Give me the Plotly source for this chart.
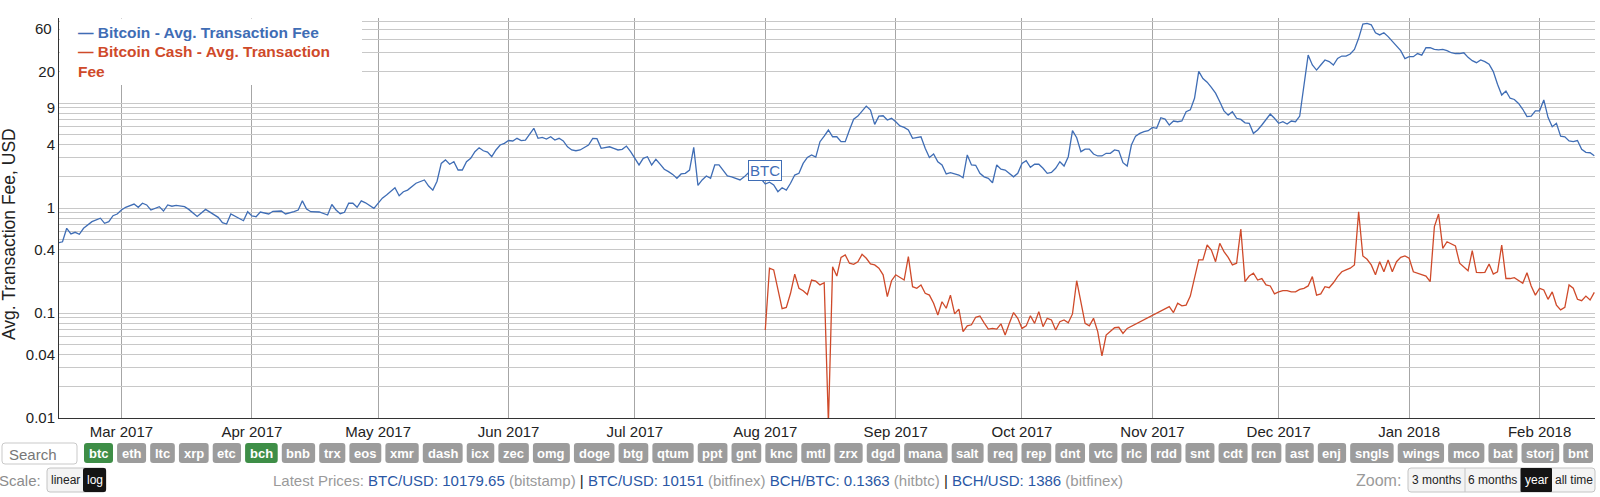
import math
import pandas as pd
import plotly.graph_objects as go

# ---------------- data ----------------
btc_early_dates = [
    "2017-02-14", "2017-02-15", "2017-02-16", "2017-02-17", "2017-02-18", "2017-02-19",
    "2017-02-20", "2017-02-22", "2017-02-24", "2017-02-25", "2017-02-26", "2017-02-27",
    "2017-02-28", "2017-03-01", "2017-03-02", "2017-03-04", "2017-03-05", "2017-03-06",
    "2017-03-07", "2017-03-08", "2017-03-10", "2017-03-11", "2017-03-12", "2017-03-13",
    "2017-03-14", "2017-03-16", "2017-03-17", "2017-03-19", "2017-03-21", "2017-03-22",
    "2017-03-24", "2017-03-25", "2017-03-26", "2017-03-27", "2017-03-28", "2017-03-30",
    "2017-03-31", "2017-04-01", "2017-04-02", "2017-04-03", "2017-04-05", "2017-04-06",
    "2017-04-08", "2017-04-09", "2017-04-11", "2017-04-12", "2017-04-13", "2017-04-14",
    "2017-04-15", "2017-04-17", "2017-04-19", "2017-04-20", "2017-04-21", "2017-04-22",
    "2017-04-23", "2017-04-24", "2017-04-25", "2017-04-26", "2017-04-27", "2017-04-28",
    "2017-04-30", "2017-05-01", "2017-05-02", "2017-05-03", "2017-05-05", "2017-05-06",
    "2017-05-07", "2017-05-08", "2017-05-10", "2017-05-12",
]
btc_early_fees = [
    0.467, 0.477, 0.641, 0.566, 0.587, 0.562,
    0.641, 0.741, 0.80, 0.715, 0.741, 0.845,
    0.877, 0.957, 1.015, 1.09, 1.015, 1.11,
    1.07, 0.957, 1.03, 0.936, 1.07, 1.04,
    1.06, 1.03, 0.97, 0.83, 0.97, 0.91,
    0.815, 0.725, 0.704, 0.877, 0.839, 0.757,
    0.922, 0.839, 0.826, 0.916, 0.877, 0.93,
    0.936, 0.877, 0.922, 0.957, 1.17, 0.978,
    0.922, 0.916, 0.858, 1.08, 0.957, 0.882,
    0.91, 1.11, 1.11, 1.015, 1.17, 1.12,
    0.993, 1.12, 1.24, 1.33, 1.56, 1.31,
    1.43, 1.48, 1.72, 1.85,
]

# daily BTC values, one list per month segment (start date, values)
btc_may = ("2017-05-13", [1.62, 1.48, 1.80, 2.66, 2.87, 2.61, 2.76, 2.30, 2.30, 2.76,
                          2.97, 3.44, 3.75, 3.51, 3.41, 3.08, 3.57, 3.98, 4.13])
btc_jun = ("2017-06-01", [4.39, 4.35, 4.61, 4.39, 4.44, 5.06, 5.74, 4.61, 4.70, 4.54,
                          4.77, 4.44, 4.61, 4.35, 3.83, 3.57, 3.51, 3.57, 3.78, 3.98,
                          4.61, 4.57, 3.70, 3.78, 3.83, 3.70, 3.57, 3.62, 3.89, 3.44])
btc_jul = ("2017-07-01", [2.97, 2.57, 2.97, 3.08, 2.57, 2.91, 2.62, 2.34, 2.22, 2.09,
                          1.92, 2.11, 2.14, 2.30, 3.78, 1.64, 1.85, 2.02, 1.92, 2.57,
                          2.57, 2.27, 2.02, 1.98, 1.92, 1.85, 1.98, 2.17, 2.30, 2.10, 1.90])
btc_aug = ("2017-08-01", [1.69, 1.76, 1.66, 1.43, 1.56, 1.48, 1.72, 2.06, 2.14, 2.66,
                          3.03, 3.20, 3.05, 4.28, 4.84, 5.53, 4.77, 4.77, 4.28, 4.28,
                          5.53, 7.00, 7.50, 8.40, 9.35, 8.58, 6.26, 7.50, 7.56, 6.89, 7.15])
btc_sep = ("2017-09-01", [6.63, 6.04, 5.86, 5.53, 4.61, 4.70, 4.77, 3.70, 3.03, 3.27,
                          2.76, 2.57, 2.11, 2.17, 2.11, 2.06, 1.94, 3.20, 2.57, 2.55,
                          2.14, 1.98, 1.92, 1.74, 2.57, 2.34, 2.30, 2.11, 1.98, 2.14])
btc_oct = ("2017-10-01", [2.66, 2.82, 2.44, 2.61, 2.61, 2.39, 2.14, 2.18, 2.39, 2.76,
                          2.51, 3.08, 5.45, 4.67, 3.44, 3.64, 3.64, 3.27, 3.13, 3.13,
                          3.32, 3.32, 3.57, 3.51, 2.70, 2.51, 3.98, 4.84, 5.14, 5.33, 5.45])
btc_nov = ("2017-11-01", [5.86, 5.74, 7.24, 7.04, 6.17, 6.74, 6.63, 6.74, 8.25, 8.60,
                          11.1, 20.0, 17.1, 15.8, 14.1, 12.4, 10.3, 8.42, 7.67, 8.25,
                          7.15, 6.98, 6.47, 6.40, 5.14, 5.53, 6.17, 6.89, 7.85, 7.15])
btc_dec = ("2017-12-01", [6.40, 6.63, 6.30, 6.74, 6.63, 7.50, 14.8, 28.6, 23.0, 20.6,
                          23.0, 25.7, 24.8, 23.0, 26.6, 28.0, 28.0, 29.3, 32.4, 41.3,
                          56.4, 57.3, 55.6, 46.7, 44.5, 46.7, 42.9, 38.4, 34.8, 31.5, 26.5])
btc_jan = ("2018-01-01", [27.6, 27.6, 29.6, 28.6, 33.6, 33.6, 32.4, 32.0, 32.4, 31.5,
                          30.1, 29.6, 29.6, 30.1, 27.2, 25.3, 24.2, 25.7, 24.8, 23.4,
                          19.9, 15.1, 11.9, 13.0, 11.1, 10.8, 9.9, 8.72, 7.41, 7.50, 8.40])
btc_feb = ("2018-02-01", [8.42, 10.7, 7.30, 5.95, 6.40, 4.84, 4.77, 4.35, 4.28, 4.39,
                          3.62, 3.39, 3.36, 3.15])

bch_aug = ("2017-08-01", [0.069, 0.267, 0.257, 0.166, 0.110, 0.113, 0.154, 0.234, 0.172, 0.163,
                          0.150, 0.206, 0.201, 0.185, 0.194, 0.009, 0.276, 0.225, 0.339, 0.357,
                          0.298, 0.291, 0.308, 0.362, 0.332, 0.293, 0.287, 0.267, 0.231, 0.143, 0.203])
bch_sep = ("2017-09-01", [0.231, 0.219, 0.206, 0.344, 0.178, 0.172, 0.185, 0.154, 0.148, 0.124,
                          0.0958, 0.128, 0.111, 0.148, 0.098, 0.109, 0.0664, 0.0754, 0.0772, 0.0910,
                          0.0937, 0.0806, 0.0703, 0.0713, 0.0703, 0.0789, 0.0617, 0.0797, 0.101, 0.0890])
bch_oct = ("2017-10-01", [0.0713, 0.0754, 0.0942, 0.0797, 0.103, 0.0741, 0.0890, 0.0859, 0.069, 0.0827,
                          0.0859, 0.0806, 0.098, 0.203, 0.124, 0.0797, 0.0754, 0.0890, 0.0664, 0.039,
                          0.0617, 0.0664, 0.0724, 0.0731, 0.064, 0.0713])
bch_nov = ("2017-11-05", [0.115, 0.101, 0.124, 0.117, 0.119, 0.145, 0.21, 0.320, 0.320, 0.444,
                          0.398, 0.308, 0.461, 0.384, 0.339, 0.287, 0.298, 0.631, 0.199, 0.225,
                          0.239, 0.206, 0.213, 0.185, 0.181, 0.152])
bch_dec = ("2017-12-01", [0.159, 0.163, 0.163, 0.159, 0.159, 0.168, 0.172, 0.181, 0.222, 0.148,
                          0.152, 0.178, 0.174, 0.194, 0.222, 0.247, 0.257, 0.267, 0.287, 0.922,
                          0.349, 0.325, 0.287, 0.231, 0.308, 0.247, 0.320, 0.247, 0.308, 0.339, 0.349])
bch_jan = ("2018-01-01", [0.332, 0.247, 0.239, 0.235, 0.225, 0.199, 0.664, 0.877, 0.413, 0.477,
                          0.454, 0.435, 0.298, 0.276, 0.253, 0.392, 0.244, 0.242, 0.244, 0.293,
                          0.235, 0.247, 0.444, 0.213, 0.213, 0.217, 0.206, 0.192, 0.242, 0.181, 0.148])
bch_feb = ("2018-02-01", [0.172, 0.166, 0.135, 0.159, 0.119, 0.107, 0.113, 0.185, 0.172, 0.135,
                          0.131, 0.145, 0.133, 0.157])

month_ticks = ["2017-03-01", "2017-04-01", "2017-05-01", "2017-06-01", "2017-07-01", "2017-08-01",
               "2017-09-01", "2017-10-01", "2017-11-01", "2017-12-01", "2018-01-01", "2018-02-01"]
month_labels = ["Mar 2017", "Apr 2017", "May 2017", "Jun 2017", "Jul 2017", "Aug 2017",
                "Sep 2017", "Oct 2017", "Nov 2017", "Dec 2017", "Jan 2018", "Feb 2018"]
y_labelled = [0.01, 0.04, 0.1, 0.4, 1, 4, 9, 20]
y_top_label = 60  # dygraphs nudges the top label down inside the plot

coin_buttons = ["btc", "eth", "ltc", "xrp", "etc", "bch", "bnb", "trx", "eos", "xmr", "dash", "icx",
                "zec", "omg", "doge", "btg", "qtum", "ppt", "gnt", "knc", "mtl", "zrx", "dgd", "mana",
                "salt", "req", "rep", "dnt", "vtc", "rlc", "rdd", "snt", "cdt", "rcn", "ast", "enj",
                "sngls", "wings", "mco", "bat", "storj", "bnt"]
active_coins = ["btc", "bch"]

# ---------------- build series ----------------
def expand(segments):
    xs, ys = [], []
    for start, vals in segments:
        xs += list(pd.date_range(start, periods=len(vals), freq="D"))
        ys += list(vals)
    return xs, ys

bx, by = expand([btc_may, btc_jun, btc_jul, btc_aug, btc_sep, btc_oct, btc_nov, btc_dec, btc_jan, btc_feb])
btc_x = list(pd.to_datetime(btc_early_dates)) + bx
btc_y = btc_early_fees + by
bch_x, bch_y = expand([bch_aug, bch_sep, bch_oct, bch_nov, bch_dec, bch_jan, bch_feb])

# ---------------- styling / layout ----------------
W, H = 1600, 497
PL, PR, PT, PB = 59, 1595, 18, 418
FONT = "Liberation Sans, Arial, Helvetica, sans-serif"
BTC_COLOR = "#3f6db5"
BCH_COLOR = "#cf4a2a"
BLUE_TXT = "#2a57a5"


def px(x):
    return x / W


def py(y):
    return 1 - y / H


y_grid = []
for e in (-2, -1, 0):
    for m in range(1, 10):
        y_grid.append(round(m * 10 ** e, 4))
for m in range(1, 7):
    y_grid.append(m * 10)
y_text = []
for v in y_grid:
    lab = ""
    for t in y_labelled:
        if abs(v - t) < 1e-9:
            lab = ("%g" % t)
    y_text.append(lab)

fig = go.Figure()
fig.add_trace(go.Scatter(x=btc_x, y=btc_y, mode="lines", line=dict(color=BTC_COLOR, width=1.3),
                         hoverinfo="skip", name="Bitcoin - Avg. Transaction Fee"))
fig.add_trace(go.Scatter(x=bch_x, y=bch_y, mode="lines", line=dict(color=BCH_COLOR, width=1.3),
                         hoverinfo="skip", name="Bitcoin Cash - Avg. Transaction Fee"))

shapes = []
annotations = []


def rrect(x0, y0, x1, y1, r, fill, line=None, lw=1):
    path = (f"M {px(x0 + r)},{py(y0)} L {px(x1 - r)},{py(y0)} Q {px(x1)},{py(y0)} {px(x1)},{py(y0 + r)} "
            f"L {px(x1)},{py(y1 - r)} Q {px(x1)},{py(y1)} {px(x1 - r)},{py(y1)} "
            f"L {px(x0 + r)},{py(y1)} Q {px(x0)},{py(y1)} {px(x0)},{py(y1 - r)} "
            f"L {px(x0)},{py(y0 + r)} Q {px(x0)},{py(y0)} {px(x0 + r)},{py(y0)} Z")
    shapes.append(dict(type="path", xref="paper", yref="paper", path=path, fillcolor=fill,
                       line=dict(color=line if line else fill, width=lw if line else 0), layer="above"))


def text(x, y, s, size=15, color="#222", xanchor="left", yanchor="middle", bold=False, angle=0):
    annotations.append(dict(x=px(x), y=py(y), xref="paper", yref="paper", text=(f"<b>{s}</b>" if bold else s),
                            showarrow=False, xanchor=xanchor, yanchor=yanchor, textangle=angle, align="left",
                            font=dict(family=FONT, size=size, color=color), borderpad=0))


# legend background + entries
shapes.append(dict(type="rect", xref="paper", yref="paper", x0=px(60), x1=px(362), y0=py(85), y1=py(18.5),
                   fillcolor="white", line=dict(width=0), layer="above"))
text(77, 33, "— Bitcoin - Avg. Transaction Fee", size=15.5, color=BTC_COLOR, bold=True)
text(77, 42.5, "— Bitcoin Cash - Avg. Transaction<br>Fee", size=15.5, color=BCH_COLOR, bold=True, yanchor="top")

# y axis title and top tick label
text(9, 234, "Avg. Transaction Fee, USD", size=17.5, color="#222", xanchor="center", angle=-90)
text(53, 28, "%g" % y_top_label, size=15, color="#222", xanchor="right")

# BTC annotation on chart
annotations.append(dict(x="2017-08-01", xref="x", y=py(170), yref="paper", text="BTC", showarrow=False,
                        xanchor="center", yanchor="middle", font=dict(family=FONT, size=15, color=BTC_COLOR),
                        bordercolor=BTC_COLOR, borderwidth=1, bgcolor="white", borderpad=1))

# search box
rrect(2, 443, 77, 464, 3, "white", "#c9c9c9")
text(8, 454, "Search", size=15, color="#777")

# coin buttons
CW = dict(a=556, b=611, c=556, d=611, e=556, f=333, g=611, h=611, i=278, j=278, k=556, l=278, m=889,
          n=611, o=611, p=611, q=611, r=389, s=556, t=333, u=611, v=556, w=778, x=556, y=556, z=500)
widths = [sum(CW[ch] for ch in lab) * 0.013 + 9.5 for lab in coin_buttons]
x_start, x_end = 84, 1593
gap = (x_end - x_start - sum(widths)) / (len(coin_buttons) - 1)
cx = x_start
for lab, wdt in zip(coin_buttons, widths):
    col = "#3e8e47" if lab in active_coins else "#9c9c9c"
    rrect(cx, 443, cx + wdt, 463, 3, col)
    text(cx + wdt / 2, 453, lab, size=13, color="white", xanchor="center", bold=True)
    cx += wdt + gap

# scale row
text(42, 480, "Scale:", size=15, color="#8c8c8c", xanchor="right")
rrect(47, 468, 106, 492, 3, "#f4f4f4", "#c4c4c4")
rrect(83, 468, 106, 492, 2, "#141414")
text(65, 480, "linear", size=12, color="#222", xanchor="center")
text(94.5, 480, "log", size=12, color="white", xanchor="center")

prices = ("<span style='color:#9a9a9a'>Latest Prices: </span>"
          f"<span style='color:{BLUE_TXT}'>BTC/USD: 10179.65</span>"
          "<span style='color:#9a9a9a'> (bitstamp) </span><span style='color:#222'>|</span>"
          f"<span style='color:{BLUE_TXT}'> BTC/USD: 10151</span>"
          "<span style='color:#9a9a9a'> (bitfinex) </span>"
          f"<span style='color:{BLUE_TXT}'>BCH/BTC: 0.1363</span>"
          "<span style='color:#9a9a9a'> (hitbtc) </span><span style='color:#222'>|</span>"
          f"<span style='color:{BLUE_TXT}'> BCH/USD: 1386</span>"
          "<span style='color:#9a9a9a'> (bitfinex)</span>")
text(272, 480, prices, size=15, color="#9a9a9a")

# zoom row
text(1402, 480, "Zoom:", size=16, color="#9a9a9a", xanchor="right")
rrect(1408, 468, 1595, 492, 3, "#f4f4f4", "#c4c4c4")
shapes.append(dict(type="line", xref="paper", yref="paper", x0=px(1465), x1=px(1465), y0=py(468), y1=py(492),
                   line=dict(color="#c4c4c4", width=1), layer="above"))
rrect(1520.5, 468, 1552, 492, 1, "#141414")
text(1436.5, 480, "3 months", size=12, color="#222", xanchor="center")
text(1492, 480, "6 months", size=12, color="#222", xanchor="center")
text(1536, 480, "year", size=12, color="white", xanchor="center")
text(1573.5, 480, "all time", size=12, color="#222", xanchor="center")

fig.update_layout(
    template="none",
    width=W, height=H,
    margin=dict(l=0, r=0, t=0, b=0),
    paper_bgcolor="white", plot_bgcolor="white",
    showlegend=False, hovermode=False,
    font=dict(family=FONT, size=15, color="#222"),
    xaxis=dict(domain=[px(PL), px(PR)], type="date",
               range=["2017-02-14 04:00", "2018-02-14 04:00"],
               tickmode="array", tickvals=month_ticks, ticktext=month_labels,
               showgrid=True, gridcolor="#a6a6a6", gridwidth=1, zeroline=False,
               showline=True, linecolor="#333", linewidth=1, ticks="",
               tickfont=dict(family=FONT, size=15, color="#222"), fixedrange=True),
    yaxis=dict(domain=[py(PB), py(PT)], type="log", range=[-2, math.log10(64.5)],
               tickmode="array", tickvals=y_grid, ticktext=y_text,
               showgrid=True, gridcolor="#c8c8c8", gridwidth=1, zeroline=False,
               showline=True, linecolor="#333", linewidth=1, ticks="",
               tickfont=dict(family=FONT, size=15, color="#222"), fixedrange=True),
    shapes=shapes,
    annotations=annotations,
)

fig.write_html("out.html", config={"displayModeBar": False},
               post_script="document.body.style.margin='0';document.body.style.overflow='hidden';")
